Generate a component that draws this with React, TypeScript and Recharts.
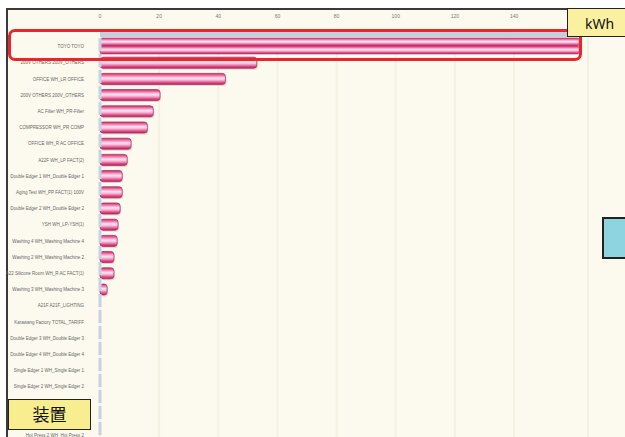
import React from "react"
import {
  BarChart,
  Bar,
  XAxis,
  YAxis,
  CartesianGrid,
} from "recharts"

// Device names (top to bottom) and their kWh readings.
const devices = [
  "TOYO TOYO",
  "200V OTHERS 200V_OTHERS",
  "OFFICE WH_LR OFFICE",
  "200V OTHERS 200V_OTHERS ",
  "AC Filter WH_PR-Filter",
  "COMPRESSOR WH_PR COMP",
  "OFFICE WH_R AC OFFICE",
  "A22F WH_LP FACT(2)",
  "Double Edger 1 WH_Double Edger 1",
  "Aging Test WH_PP FACT(1) 100V",
  "Double Edger 2 WH_Double Edger 2",
  "YSH WH_LP-YSH(1)",
  "Washing 4 WH_Washing Machine 4",
  "Washing 2 WH_Washing Machine 2",
  "A22 Silicone Room WH_R AC FACT(1)",
  "Washing 3 WH_Washing Machine 3",
  "A21F A21F_LIGHTING",
  "Karawang Factory TOTAL_TARIFF",
  "Double Edger 3 WH_Double Edger 3",
  "Double Edger 4 WH_Double Edger 4",
  "Single Edger 1 WH_Single Edger 1",
  "Single Edger 2 WH_Single Edger 2",
  "Washing 1 WH_Washing Machine 1",
  "Hot Press 1 WH_Hot Press 1",
  "Hot Press 2 WH_Hot Press 2",
]

const kwh = [
  162, 53, 42.4, 20.3, 18, 16, 10.5, 9.2, 7.5, 7.5, 6.8, 6.1, 5.8, 4.7, 4.7,
  2.4, 0, 0, 0, 0, 0, 0, 0, 0, 0,
]

const xTicks = [0, 20, 40, 60, 80, 100, 120, 140]

const data = devices.map((name, i) => ({ name, kwh: kwh[i] }))

const LABEL_FONT = "'Liberation Sans', Arial, sans-serif"

// single-line device label (default ticks wrap long names)
function DeviceTick(props: any) {
  const { x, y, payload } = props
  return (
    <text x={x} y={y} dy={2} textAnchor="end" fontSize={4.5} fill="#666" fontFamily={LABEL_FONT}>
      {payload.value}
    </text>
  )
}

// Pink glossy bar; the first (selected) row is drawn thicker with a band above.
function PinkBar(props: any) {
  const { x, y, width, height, index } = props
  if (!width || width < 0.5) return null
  if (index === 0) {
    const top = y - 3
    const h = height + 5
    return (
      <g>
        <rect x={x} y={top - 6} width={width} height={5} fill="#C3CFDC" />
        <rect x={x} y={top} width={width} height={h / 2} rx={2} fill="url(#pinkGrad)" stroke="#B83A70" strokeWidth={0.6} />
        <rect x={x} y={top + h / 2} width={width} height={h / 2} rx={2} fill="url(#pinkGrad)" stroke="#B83A70" strokeWidth={0.6} />
      </g>
    )
  }
  return (
    <g>
      <rect x={x + 1} y={y + 1.5} width={width} height={height} rx={3} fill="#CFC8C0" opacity={0.6} />
      <rect x={x} y={y} width={width} height={height} rx={3} fill="url(#pinkGrad)" stroke="#B02E66" strokeWidth={0.8} />
    </g>
  )
}

export default function App() {
  return (
    <div
      style={{
        position: "absolute",
        left: 0,
        top: 0,
        width: 625,
        height: 437,
        overflow: "hidden",
        background: "#ffffff",
      }}
    >
      {/* panel frame */}
      <div
        style={{
          position: "absolute",
          left: 6,
          top: 8,
          width: 700,
          height: 500,
          borderLeft: "2px solid #3a3a3a",
          borderTop: "2px solid #3a3a3a",
          background: "#FCFAEE",
        }}
      />
      <div style={{ position: "absolute", left: 0, top: 0 }}>
        <BarChart
          width={625}
          height={460}
          data={data}
          layout="vertical"
          margin={{ top: 18, right: 37, left: 8, bottom: 17 }}
          barSize={11}
        >
          <defs>
            <linearGradient id="pinkGrad" x1="0" y1="0" x2="0" y2="1">
              <stop offset="0%" stopColor="#C8306E" />
              <stop offset="18%" stopColor="#EE6FA5" />
              <stop offset="42%" stopColor="#FDE3EE" />
              <stop offset="58%" stopColor="#F9C2DA" />
              <stop offset="82%" stopColor="#E2508C" />
              <stop offset="100%" stopColor="#A92260" />
            </linearGradient>
          </defs>
          <CartesianGrid horizontal={false} stroke="#F4F1E2" strokeWidth={2} />
          <XAxis
            type="number"
            orientation="top"
            domain={[0, 165]}
            ticks={xTicks}
            height={20}
            axisLine={false}
            tickLine={false}
            tickMargin={14}
            tick={{ fontSize: 5, fill: "#777", fontFamily: LABEL_FONT }}
          />
          <YAxis
            type="category"
            dataKey="name"
            width={92}
            interval={0}
            tickLine={false}
            tickMargin={10}
            axisLine={{ stroke: "#C5D3E2", strokeWidth: 3, strokeDasharray: "13 3" }}
            tick={DeviceTick}
          />
          <Bar dataKey="kwh" shape={PinkBar} isAnimationActive={false} />
        </BarChart>
      </div>

      {/* annotations */}
      <div
        style={{
          position: "absolute",
          left: 8,
          top: 29,
          width: 568,
          height: 26,
          border: "3px solid #E8262B",
          borderRadius: 7,
        }}
      />
      <div
        style={{
          position: "absolute",
          left: 567,
          top: 8,
          width: 70,
          height: 29,
          border: "1.5px solid #222",
          background: "#FAF0A0",
          fontFamily: "'Noto Sans', 'Liberation Sans', sans-serif",
          fontSize: 14,
          lineHeight: "29px",
          paddingLeft: 17,
          boxSizing: "border-box",
          color: "#111",
        }}
      >
        kWh
      </div>
      <div
        style={{
          position: "absolute",
          left: 8,
          top: 399,
          width: 83,
          height: 31,
          border: "1.5px solid #222",
          background: "#F8EE90",
          boxSizing: "border-box",
          fontFamily: "'Noto Sans CJK JP', sans-serif",
          fontSize: 17,
          lineHeight: "28px",
          textAlign: "center",
          color: "#111",
        }}
      >
        装置
      </div>
      <div
        style={{
          position: "absolute",
          left: 602,
          top: 217,
          width: 40,
          height: 42,
          border: "2px solid #222",
          background: "#8DD3E0",
          boxSizing: "border-box",
        }}
      />
    </div>
  )
}
